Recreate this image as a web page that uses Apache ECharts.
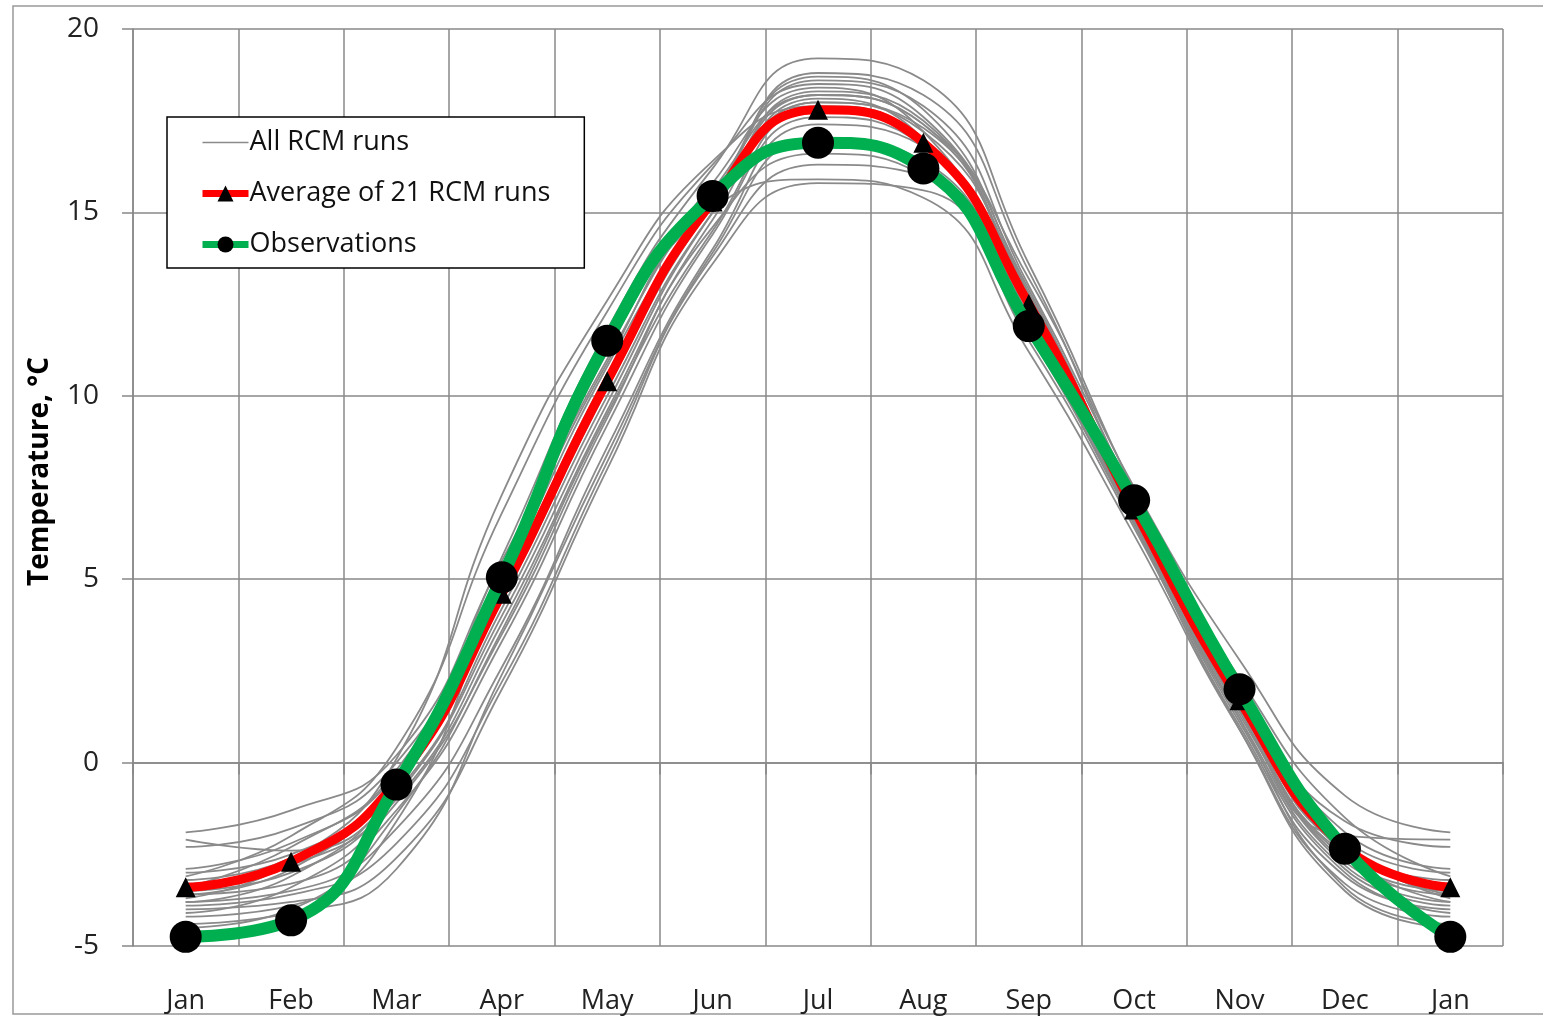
<!DOCTYPE html>
<html><head><meta charset="utf-8">
<script src="https://cdn.jsdelivr.net/npm/echarts@6/dist/echarts.min.js"></script>
<style>html,body{margin:0;padding:0;background:#fff}#c{width:1543px;height:1017px}</style>
</head><body><div id="c"></div>
<script>
// ---- data ----
const months = ['Jan','Feb','Mar','Apr','May','Jun','Jul','Aug','Sep','Oct','Nov','Dec','Jan'];
const yTicks = [-5, 0, 5, 10, 15, 20];
const averageRuns = [-3.4, -2.7, -0.5, 4.6, 10.4, 15.3, 17.8, 16.9, 12.5, 6.9, 1.7, -2.3, -3.4];
const observations = [-4.75, -4.3, -0.6, 5.05, 11.5, 15.45, 16.9, 16.2, 11.9, 7.15, 2.0, -2.35, -4.75];
const run01 = [-1.9, -1.3, 0.2, 5.5, 11.0, 15.6, 18.2, 17.4, 13.2, 7.5, 2.8, -0.9, -1.9];
const run02 = [-2.1, -2.4, -0.8, 4.2, 10.0, 15.0, 18.0, 17.2, 12.8, 7.0, 1.4, -2.0, -2.1];
const run03 = [-2.3, -1.8, 0.0, 5.0, 10.8, 15.4, 18.6, 17.9, 13.0, 7.3, 2.1, -1.6, -2.3];
const run04 = [-2.9, -2.2, -0.3, 4.8, 10.6, 15.3, 18.8, 18.2, 13.4, 7.2, 2.0, -1.9, -2.9];
const run05 = [-3.0, -2.5, -0.4, 5.6, 11.8, 16.2, 19.2, 18.6, 13.6, 7.4, 1.9, -2.1, -3.0];
const run06 = [-3.1, -2.0, 0.4, 6.8, 12.3, 16.3, 18.5, 17.6, 12.9, 7.1, 2.3, -1.5, -3.1];
const run07 = [-3.2, -2.6, -0.6, 4.4, 10.2, 15.2, 18.3, 17.5, 12.6, 6.8, 1.6, -2.4, -3.2];
const run08 = [-3.3, -2.8, -1.0, 3.8, 9.6, 14.8, 18.0, 17.3, 12.7, 6.9, 1.5, -2.5, -3.3];
const run09 = [-3.4, -2.3, -0.2, 5.2, 11.2, 15.8, 18.4, 17.2, 12.4, 6.7, 1.8, -2.2, -3.4];
const run10 = [-3.5, -3.0, -0.9, 4.0, 9.8, 15.0, 18.1, 17.0, 12.3, 6.6, 1.3, -2.6, -3.5];
const run11 = [-3.6, -2.9, -0.5, 4.6, 10.4, 15.4, 18.7, 17.8, 12.8, 7.0, 1.7, -2.3, -3.6];
const run12 = [-3.6, -3.3, -1.3, 3.3, 9.2, 14.4, 17.6, 16.8, 12.2, 6.8, 1.5, -2.7, -3.6];
const run13 = [-3.7, -2.7, 0.1, 7.3, 12.6, 16.4, 17.9, 16.9, 12.4, 6.9, 1.9, -2.2, -3.7];
const run14 = [-3.8, -3.5, -1.8, 2.6, 8.6, 14.0, 17.4, 16.8, 12.5, 7.0, 1.6, -2.5, -3.8];
const run15 = [-3.8, -3.1, -0.7, 4.5, 10.3, 15.2, 18.2, 17.4, 12.6, 6.8, 1.4, -2.8, -3.8];
const run16 = [-3.9, -3.6, -2.2, 2.2, 8.2, 13.8, 16.3, 16.0, 11.8, 6.5, 1.2, -2.9, -3.9];
const run17 = [-4.0, -3.8, -2.6, 2.0, 8.0, 13.6, 15.8, 15.6, 11.5, 6.4, 1.0, -3.1, -4.0];
const run18 = [-4.1, -3.4, -1.1, 3.5, 9.4, 14.6, 16.6, 16.0, 11.7, 6.5, 1.1, -3.0, -4.1];
const run19 = [-4.2, -3.9, -1.6, 4.9, 10.9, 15.1, 15.9, 15.4, 11.2, 6.2, 0.9, -3.3, -4.2];
const run20 = [-4.4, -4.1, -2.9, 2.4, 8.4, 13.9, 17.0, 16.4, 12.0, 6.6, 1.2, -3.4, -4.4];
const run21 = [-4.5, -4.0, -1.4, 3.6, 9.5, 14.5, 17.8, 17.0, 12.1, 6.5, 0.9, -3.5, -4.5];
const runs = [run01, run02, run03, run04, run05, run06, run07, run08, run09, run10, run11,
              run12, run13, run14, run15, run16, run17, run18, run19, run20, run21];

// ---- chart ----
const FONT = '"Open Sans", sans-serif';
const chart = echarts.init(document.getElementById('c'), null, {renderer: 'canvas'});
const series = runs.map(r => ({
  name: 'All RCM runs', type: 'line', data: r, smooth: 0.5, symbol: 'none',
  lineStyle: {color: '#8a8a8a', width: 1.8}, z: 2, silent: true
}));
series.push({
  name: 'Average of 21 RCM runs', type: 'line', data: averageRuns, smooth: 0.5,
  symbol: 'triangle', symbolSize: 20, showAllSymbol: true,
  itemStyle: {color: '#000'}, lineStyle: {color: '#ff0000', width: 9}, z: 3
});
series.push({
  name: 'Observations', type: 'line', data: observations, smooth: 0.5,
  symbol: 'circle', symbolSize: 32, showAllSymbol: true,
  itemStyle: {color: '#000'}, lineStyle: {color: '#00b050', width: 12}, z: 4
});

chart.setOption({
  animation: false,
  backgroundColor: '#fff',
  textStyle: {fontFamily: FONT},
  grid: {left: 133, right: 40, top: 29, bottom: 71, containLabel: false},
  legend: {
    data: [
      {name: 'All RCM runs', itemStyle: {opacity: 0}, lineStyle: {width: 1.5}},
      {name: 'Average of 21 RCM runs', lineStyle: {width: 7}},
      {name: 'Observations', lineStyle: {width: 7}}
    ],
    orient: 'vertical', left: 167, top: 117,
    backgroundColor: '#fff', borderColor: '#000', borderWidth: 1.5,
    padding: [12, 34, 10, 32],
    itemWidth: 46, itemHeight: 20, itemGap: 24,
    textStyle: {fontFamily: FONT, fontSize: 27, color: '#111', padding: [0, 0, 0, -4]}
  },
  xAxis: {
    type: 'category', data: months, boundaryGap: true,
    axisLine: {lineStyle: {color: '#888', width: 1.5}},
    axisTick: {show: true, length: 12, lineStyle: {color: '#888', width: 1.5}},
    axisLabel: {fontFamily: FONT, fontSize: 27, color: '#222', margin: 42, interval: 0},
    splitLine: {show: true, lineStyle: {color: '#888', width: 1.5}}
  },
  yAxis: {
    type: 'value', min: yTicks[0], max: yTicks[yTicks.length - 1], interval: 5,
    name: 'Temperature, °C', nameLocation: 'middle', nameGap: 79, nameRotate: 90,
    nameTextStyle: {fontFamily: FONT, fontSize: 28, fontWeight: 'bold', color: '#000', padding: [0, 0, 0, 32]},
    axisLine: {show: true, lineStyle: {color: '#888', width: 1.5}},
    axisTick: {show: true, length: 11, lineStyle: {color: '#888', width: 1.5}},
    axisLabel: {fontFamily: FONT, fontSize: 28, color: '#222', margin: 34},
    splitLine: {show: true, lineStyle: {color: '#888', width: 1.5}}
  },
  graphic: [{
    type: 'rect', shape: {x: 13, y: 6, width: 1545, height: 1008}, silent: true, z: -1,
    style: {fill: 'none', stroke: '#999', lineWidth: 1.5}
  }],
  series: series
});
</script>
</body></html>
